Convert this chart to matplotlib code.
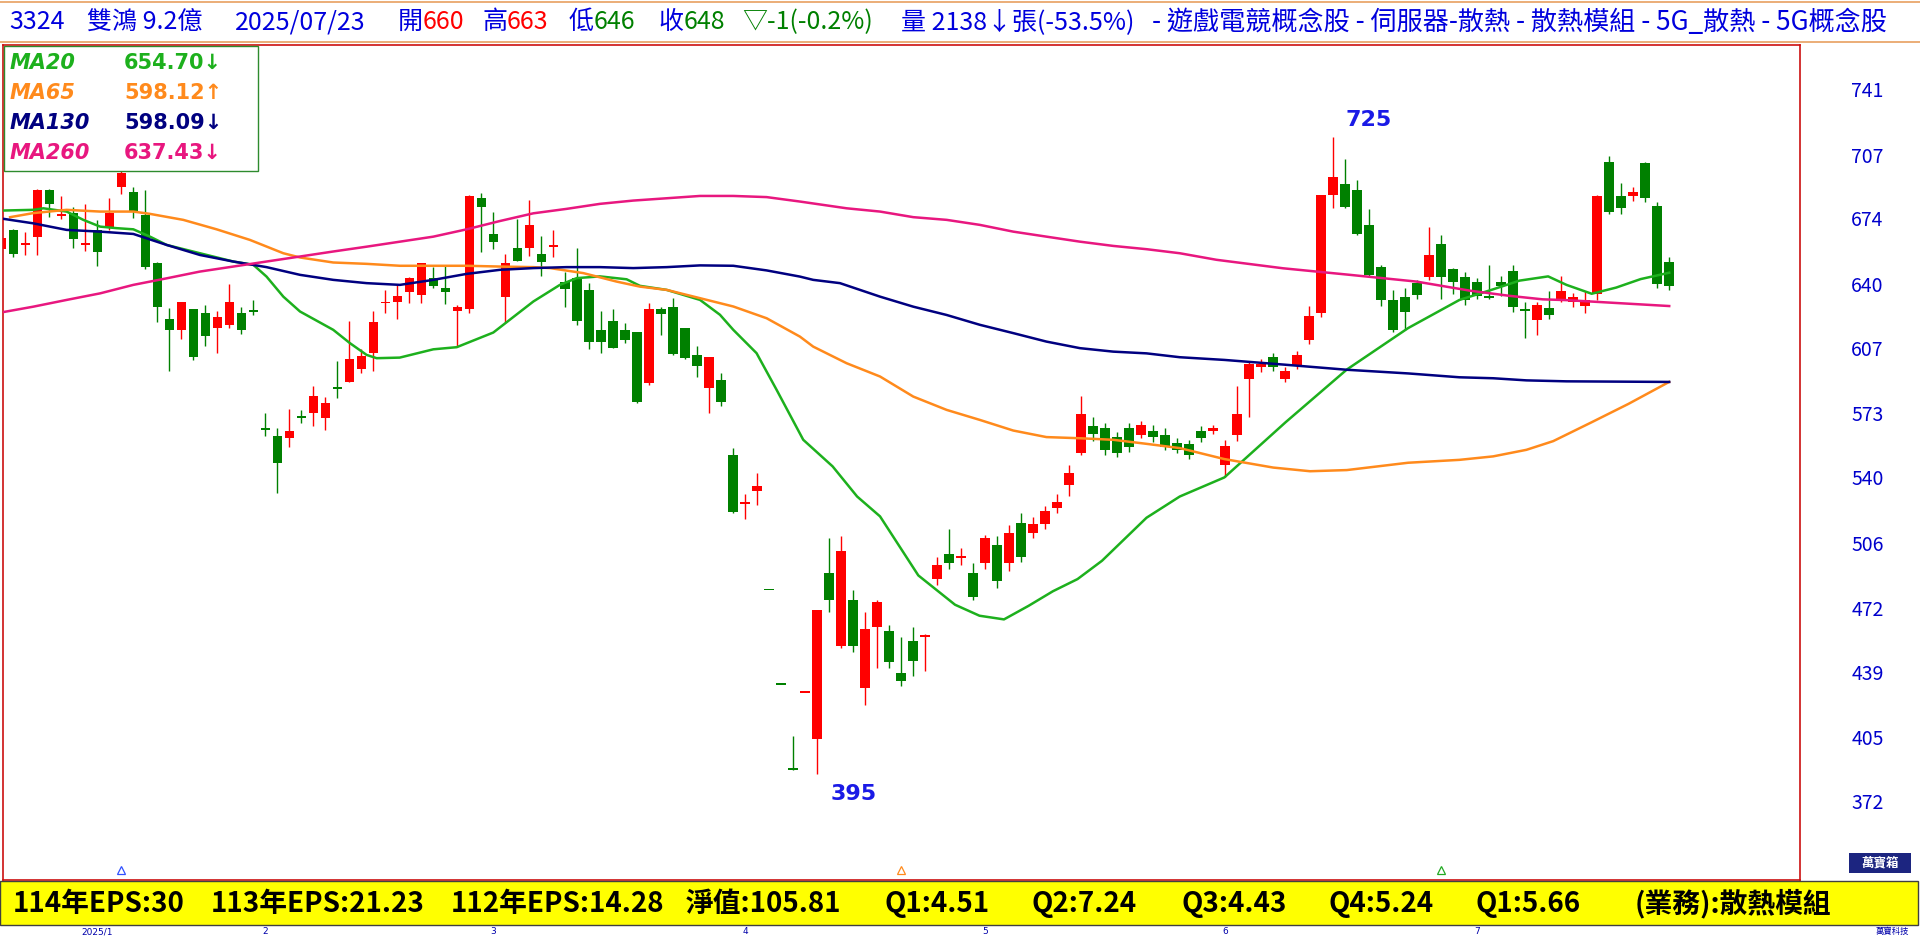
import matplotlib
matplotlib.use('Agg')
import matplotlib.pyplot as plt
from matplotlib import transforms
from matplotlib.patches import Rectangle
from matplotlib.lines import Line2D

plt.rcParams['font.family'] = ['Noto Sans CJK TC', 'DejaVu Sans']

# daily candles 3324 雙鴻 (Dec 2024 .. 2025/07/23)
opens = [666.9, 677, 669, 673, 697.7, 684, 685.7, 669, 676.8, 678.1,
         699, 696.8, 684.7, 659.7, 630.8, 625.1, 635.9, 634, 626.3, 627.7,
         634, 635, 574, 570.2, 568.9, 580, 582.2, 579.3, 595, 598.3,
         604.8, 613.3, 638.8, 639.7, 644.9, 642.9, 651.8, 647, 635.1, 636,
         693.3, 674.8, 641.9, 667.6, 667.7, 664.5, 668, 649.8, 652.2, 645.8,
         625.1, 629.8, 625.1, 623.9, 597.5, 635.8, 636.8, 625.9, 612.1, 595.2,
         599.2, 560.3, 535, 541.3, 490, 441, 397, 437, 412.8, 499,
         461, 485, 439.5, 471, 469, 447, 464, 466, 496, 508.7,
         507, 499, 504, 513.7, 504, 525, 520, 524.5, 532.7, 544.8,
         561.3, 575, 574, 569.5, 574, 570.8, 572.7, 570.8, 566.4, 565.7,
         572.7, 572.7, 555, 570.8, 599.4, 605.7, 610.8, 599.4, 607, 619.7,
         634, 695, 700.7, 697.6, 679.5, 657.7, 640.6, 642, 649.3, 652.4,
         669.6, 656.7, 652.4, 650, 641.8, 650, 655.5, 635, 630, 636.6,
         640.5, 639.4, 637.5, 643.8, 712, 694.6, 694.6, 711.7, 689.5, 660]
highs = [674, 677.4, 676, 698, 698, 694.6, 688.8, 690.4, 681.9, 693.3,
         707.3, 699, 697.7, 660, 636.2, 639.5, 636, 638, 634.9, 648.9,
         636.8, 640.6, 582.2, 574, 584.1, 583.5, 596.2, 590.5, 608.9, 629.8,
         615.2, 634.9, 645.7, 648.2, 652.5, 659.9, 657.9, 658.8, 638.1, 695,
         695.9, 686, 664.5, 682.5, 692.5, 673.8, 676.9, 655.3, 667.4, 649.6,
         634.9, 635.8, 628.5, 623.9, 638.9, 636.8, 641.5, 626.3, 616.5, 610.9,
         602.6, 563.8, 540.1, 550.8, 490, 441, 414.5, 437, 480, 517,
         518, 490, 479, 485, 472, 466, 471, 467.4, 507.4, 522,
         512, 504, 518.8, 518, 524, 530, 528, 534, 540, 555,
         591, 580, 577, 572, 577, 578, 576, 574, 569, 568,
         575, 576, 568, 596, 609, 610, 613, 606, 614, 637.5,
         695, 725, 713.5, 703, 687.6, 658.8, 645.8, 647, 651, 678.6,
         674, 657, 655, 652, 658.5, 653, 658.5, 639.3, 639.3, 645,
         653, 644, 645, 695, 715, 701, 699, 712.3, 691.4, 663]
lows = [665, 662.8, 664, 664, 683.5, 682.5, 667.3, 666.2, 658.4, 676.8,
        695.4, 683.3, 656.5, 629.4, 603.5, 620.4, 609.5, 616.5, 613.3, 626,
        622.8, 633, 570.2, 540.4, 564.5, 577, 575.3, 573.4, 589.9, 598,
        602.5, 603.5, 633.6, 630.5, 639.2, 639.2, 646.6, 638.6, 616.1, 633.7,
        665.2, 667, 629.1, 660.9, 663.6, 653, 662.6, 636.8, 627.4, 615.2,
        613, 615.9, 618.5, 587, 596.6, 622.5, 611.8, 609.9, 600.4, 581.9,
        585.7, 530.1, 526.9, 534.1, 490, 441, 397, 437, 395, 479,
        460, 458, 430.6, 450, 450, 440.7, 445.8, 448.4, 492.8, 501,
        503, 485, 501, 491.5, 500, 505, 517, 522, 530, 539,
        560, 567.6, 560, 559, 562, 569, 567, 563, 561, 558,
        567, 571, 549, 567.6, 580, 603, 604, 598, 605, 618,
        632, 688, 688.5, 674, 652.7, 637.5, 624, 624.8, 641, 651,
        641, 643.5, 638, 641, 641.1, 642.7, 634.4, 620.7, 622.5, 630.5,
        639.3, 637, 634, 640.6, 685, 685, 692, 691.4, 647, 646]
closes = [672.5, 664.3, 669.5, 697.7, 690.2, 684.5, 672, 669.5, 665.7, 685.9,
          706.6, 686.4, 657.9, 637.1, 625.1, 639.3, 611.2, 622, 631.6, 639.3,
          625.1, 634.5, 573, 556.2, 572.7, 579.5, 590.8, 587.3, 594.5, 610.2,
          611.4, 628.9, 639, 642.8, 652.2, 659.7, 648, 644.9, 636.8, 694.7,
          689, 670.8, 659.7, 660.9, 679.5, 660, 668.5, 646.2, 629.9, 619,
          619, 615.9, 619.9, 587.9, 636, 633.2, 612.4, 610.4, 606.1, 610.9,
          587.9, 530.5, 535.5, 544.2, 490, 441, 397, 437, 480, 485,
          510.5, 461, 470, 484, 453, 443, 453.5, 466.5, 503, 504.2,
          507.5, 486.4, 517, 494.7, 520, 507.4, 524.5, 531, 536, 551,
          581.6, 571, 562.6, 561.3, 564.5, 576, 569.5, 564.5, 562.6, 560,
          569, 574, 565, 581.6, 607.6, 607.6, 605.7, 603.8, 612, 632.4,
          695, 704.5, 689, 675, 653.6, 640.6, 625, 634.3, 643.2, 664,
          652.4, 650, 640.5, 642.7, 641.5, 647.6, 637, 634.8, 637.8, 633,
          645, 642, 640.6, 694.6, 686, 688.2, 696.5, 693.3, 649, 648]

# moving averages (x = candle index, y = price)
ma20_x = [-0.11, 2.66, 3.5, 5.44, 6.83, 8.23, 9.61, 11.0, 12.39, 13.78, 16.55, 19.33,
          21.0, 22.1, 23.5, 24.89, 27.66, 29.05, 30.44, 31.28, 33.2, 36.0, 37.95, 41.0,
          44.34, 46.55, 47.95, 49.89, 52.11, 53.22, 55.45, 58.23, 59.89, 61.0, 62.94,
          64.61, 66.83, 69.28, 71.32, 73.23, 76.42, 79.48, 81.52, 83.56, 85.6, 87.64,
          89.69, 91.73, 95.44, 98.21, 101.93, 107.03, 112.13, 117.24, 121.52, 124.33,
          126.52, 128.91, 130.44, 132.54, 134.58, 136.62, 139]
ma20_y = [686.9, 687.3, 688.1, 686.4, 682.1, 678.6, 677.8, 677.2, 673.4, 669.1, 664.8, 660.5,
          658.8, 652.7, 642.3, 634.6, 625.1, 618.2, 612.1, 610.4, 610.7, 615.0, 616.1, 623.7,
          639.8, 648.4, 651.9, 652.8, 651.3, 647.9, 645.8, 640.6, 632.9, 625.1, 613.0,
          594.0, 568.1, 554.3, 538.7, 528.4, 497.8, 482.6, 476.9, 475.0, 482.0, 489.6,
          495.9, 505.4, 527.7, 538.7, 548.6, 577.2, 604.5, 626.0, 640.6, 646.1,
          650.6, 652.8, 648.4, 643.8, 647.0, 651.4, 654.70]
ma65_x = [0.73, 2.66, 5.44, 8.23, 11.0, 12.39, 15.16, 17.94, 20.72, 23.5, 24.89, 27.66,
          30.44, 33.22, 38.78, 41.55, 44.34, 45.73, 48.5, 51.28, 53.22, 55.45, 58.23, 61.0,
          63.78, 66.55, 67.66, 70.44, 73.23, 76.0, 78.78, 81.55, 84.33, 87.1, 89.89, 92.66,
          95.44, 98.21, 101.93, 106.0, 109.07, 112.13, 117.24, 121.52, 124.33, 127.1,
          129.33, 132.54, 135.6, 139]
ma65_y = [683.5, 685.6, 687.3, 686.4, 686.4, 685.2, 682.1, 677.2, 671.7, 664.8, 662.6, 660.0,
          659.3, 658.3, 658.3, 657.9, 657.6, 657.1, 654.5, 650.1, 647.5, 645.8, 641.5, 637.2,
          631.1, 621.6, 616.4, 607.8, 600.9, 590.5, 583.6, 578.4, 572.9, 569.5, 568.9, 568.1,
          566.0, 563.8, 558.1, 553.7, 551.8, 552.4, 556.2, 557.7, 559.5, 562.9,
          567.4, 577.2, 586.7, 598.12]
ma130_x = [-0.11, 2.66, 5.44, 8.23, 11.0, 13.78, 16.55, 19.33, 22.1, 24.89, 27.66, 30.44,
           33.22, 36.0, 38.78, 41.55, 44.34, 47.11, 49.89, 52.66, 55.45, 58.23, 61.0, 63.78,
           66.55, 67.66, 69.89, 73.23, 76.0, 78.78, 81.55, 84.33, 87.1, 89.89, 92.66, 95.44,
           98.21, 101.93, 107.03, 112.13, 117.24, 121.52, 124.33, 127.1, 130.44, 139]
ma130_y = [682.9, 680.3, 676.9, 676.0, 674.8, 669.1, 663.9, 660.5, 657.6, 653.6, 651.0, 649.3,
           648.4, 651.0, 654.1, 656.2, 657.1, 657.6, 657.6, 657.1, 657.6, 658.5, 658.3, 655.9,
           652.7, 651.0, 649.3, 642.3, 637.1, 632.8, 627.7, 623.4, 619.0, 615.6, 613.8, 612.9,
           610.9, 609.5, 607.0, 604.4, 602.5, 600.5, 600.0, 598.9, 598.4, 598.09]
ma260_x = [-0.11, 2.66, 5.44, 8.23, 11.0, 13.78, 16.55, 19.33, 22.1, 24.89, 27.66, 30.44,
           33.22, 36.0, 38.78, 41.55, 44.34, 47.11, 49.89, 52.66, 55.45, 58.23, 61.0, 63.78,
           66.55, 70.44, 73.23, 76.0, 78.78, 81.55, 84.33, 87.1, 89.89, 92.66, 95.44, 98.21,
           101.27, 106.82, 112.39, 117.95, 122.39, 125.71, 128.46, 130.44, 139]
ma260_y = [634.0, 637.1, 640.6, 644.0, 648.4, 651.8, 655.3, 657.9, 660.5, 663.1, 665.7, 668.2,
           670.8, 673.4, 677.2, 681.5, 685.5, 687.8, 690.4, 692.1, 693.3, 694.5, 694.5, 693.9,
           691.6, 688.1, 686.4, 683.5, 682.1, 679.5, 676.0, 673.4, 670.8, 668.6, 666.9, 664.8,
           661.4, 657.0, 653.6, 650.1, 645.4, 642.7, 640.9, 640.5, 637.43]
ma_names = ['MA20', 'MA65', 'MA130', 'MA260']
ma_last = ['654.70↓', '598.12↑', '598.09↓', '637.43↓']
ma_colors = ['#1DB01D', '#FF8A1C', '#000080', '#E8177F']

ytick_vals = [741, 707, 674, 640, 607, 573, 540, 506, 472, 439, 405, 372]
month_idx = [8, 22, 41, 62, 82, 102, 123]
month_lbl = ['2025/1', '2', '3', '4', '5', '6', '7']
signal_idx = [10, 75, 120]
signal_col = ['#3050FF', '#FF8A1C', '#22AA22']

eps_items = ['114年EPS:30', '113年EPS:21.23', '112年EPS:14.28', '淨值:105.81',
             'Q1:4.51', 'Q2:7.24', 'Q3:4.43', 'Q4:5.24', 'Q1:5.66', '(業務):散熱模組']
eps_x = [0.0064, 0.1097, 0.2347, 0.3571, 0.4605, 0.5370, 0.6154, 0.6920, 0.7685, 0.8514]

BLUE = '#0000DD'
RED = '#FF0000'
GREEN = '#008000'

fig = plt.figure(figsize=(19.2, 9.39), dpi=100)
fig.patch.set_facecolor('white')
ax = fig.add_axes([0.0016, 0.0626, 0.9359, 0.8898])
ax.set_xlim(0.144, 149.9)
ax.set_ylim(339.8, 772.9)
ax.set_xticks([])
ax.set_yticks([])
for s in ax.spines.values():
    s.set_color('#CC1010')
    s.set_linewidth(1.2)

# candles
n = len(closes)
xs = list(range(n))
cols = []
for i in range(n):
    if closes[i] > opens[i]:
        cols.append(RED)
    elif closes[i] < opens[i]:
        cols.append(GREEN)
    else:
        cols.append(RED if i > 0 and closes[i] > closes[i - 1] else GREEN)
ax.vlines(xs, lows, highs, colors=cols, lw=1.0, zorder=2)
bottoms = [min(o, c) for o, c in zip(opens, closes)]
heights = [max(abs(c - o), 0.9) for o, c in zip(opens, closes)]
ax.bar(xs, heights, bottom=bottoms, width=0.8, color=cols, linewidth=0, zorder=3)

# moving averages
for mx, my, c in zip([ma20_x, ma65_x, ma130_x, ma260_x],
                     [ma20_y, ma65_y, ma130_y, ma260_y], ma_colors):
    ax.plot(mx, my, color=c, lw=1.8, zorder=4, solid_joinstyle='round')

# high / low marks
hi_i = max(range(n), key=lambda i: highs[i])
lo_i = min(range(n), key=lambda i: lows[i])
ax.annotate(f'{highs[hi_i]:.0f}', (hi_i, highs[hi_i]), xytext=(35, 17),
            textcoords='offset pixels', ha='center', va='center', color='#1A1AE6',
            fontsize=16, fontweight='bold', family='DejaVu Sans')
ax.annotate(f'{lows[lo_i]:.0f}', (lo_i, lows[lo_i]), xytext=(36, -20),
            textcoords='offset pixels', ha='center', va='center', color='#1A1AE6',
            fontsize=16, fontweight='bold', family='DejaVu Sans')

# signal triangles along the bottom
tri = transforms.blended_transform_factory(ax.transData, ax.transAxes)
for si, sc in zip(signal_idx, signal_col):
    ax.plot([si], [0.012], marker='^', ms=6, mfc='none', mec=sc, mew=0.9,
            transform=tri, clip_on=False, zorder=5)

# right price scale
yt = transforms.blended_transform_factory(ax.transAxes, ax.transData)
yt = transforms.offset_copy(yt, fig=fig, x=0, y=14.5, units='dots')
for v in ytick_vals:
    ax.text(1.0375, v, str(v), transform=yt, ha='center', va='center',
            color='#0000CC', fontsize=14, clip_on=False)

# legend box
fig.patches.append(Rectangle((0.0021, 0.8175), 0.1325, 0.133, transform=fig.transFigure,
                             facecolor='white', edgecolor='#2E8B2E', lw=1.0, zorder=6))
for k, (nm, lv, c) in enumerate(zip(ma_names, ma_last, ma_colors)):
    yy = 0.9326 - k * 0.0317
    fig.text(0.0049, yy, nm, color=c, fontsize=15, style='italic', fontweight='bold',
             family='DejaVu Sans', va='center', zorder=7)
    fig.text(0.0646, yy, lv, color=c, fontsize=15, fontweight='bold',
             family='DejaVu Sans', va='center', zorder=7)

# title bar
fig.add_artist(Line2D([0, 1], [0.998, 0.998], color='#E8A060', lw=1.2))
fig.add_artist(Line2D([0, 1], [0.9557, 0.9557], color='#E8A060', lw=1.2))
renderer = fig.canvas.get_renderer()


def run(x0, y, parts, **kw):
    x = x0
    for s, c in parts:
        t = fig.text(x, y, s, color=c, va='center', **kw)
        bb = t.get_window_extent(renderer)
        x = fig.transFigure.inverted().transform((bb.x1, bb.y0))[0]


ty = 0.9762
tkw = dict(fontsize=18)
run(0.0048, ty, [('3324', BLUE)], **tkw)
run(0.0452, ty, [('雙鴻 9.2億', BLUE)], **tkw)
run(0.1222, ty, [('2025/07/23', BLUE)], **tkw)
run(0.2073, ty, [('開', BLUE), ('660', RED)], **tkw)
run(0.2511, ty, [('高', BLUE), ('663', RED)], **tkw)
run(0.2963, ty, [('低', BLUE), ('646', GREEN)], **tkw)
run(0.3428, ty, [('收', BLUE), ('648', GREEN)], **tkw)
run(0.3866, ty, [('▽-1(-0.2%)', GREEN)], **tkw)
run(0.4691, ty, [('量 2138↓張(-53.5%)', BLUE)], **tkw)
run(0.6000, ty, [('- 遊戲電競概念股 - 伺服器-散熱 - 散熱模組 - 5G_散熱 - 5G概念股', BLUE)],
    fontsize=18.8)

# bottom EPS bar
fig.patches.append(Rectangle((0.0, 0.0150), 0.999, 0.0463, transform=fig.transFigure,
                             facecolor='#FFFF00', edgecolor='#404040', lw=1.0))
for s, xx in zip(eps_items, eps_x):
    fig.text(xx, 0.0378, s, fontsize=20, fontweight='bold', color='black', va='center')

# month labels
mt = transforms.blended_transform_factory(ax.transData, fig.transFigure)
for mi, ml in zip(month_idx, month_lbl):
    ax.text(mi, 0.0075, ml, transform=mt, ha='center', va='center', fontsize=6.5,
            color='#0000AA', clip_on=False, family='DejaVu Sans')
fig.text(0.9853, 0.0075, '萬寶科技', fontsize=6, color='#0000AA', ha='center', va='center')
fig.patches.append(Rectangle((0.9630, 0.0704), 0.0325, 0.0209, transform=fig.transFigure,
                             facecolor='#1C2580', edgecolor='none'))
fig.text(0.9792, 0.0808, '萬寶箱', color='white', fontsize=9, fontweight='bold',
         ha='center', va='center')

fig.savefig('out.png', dpi=100, facecolor='white')
